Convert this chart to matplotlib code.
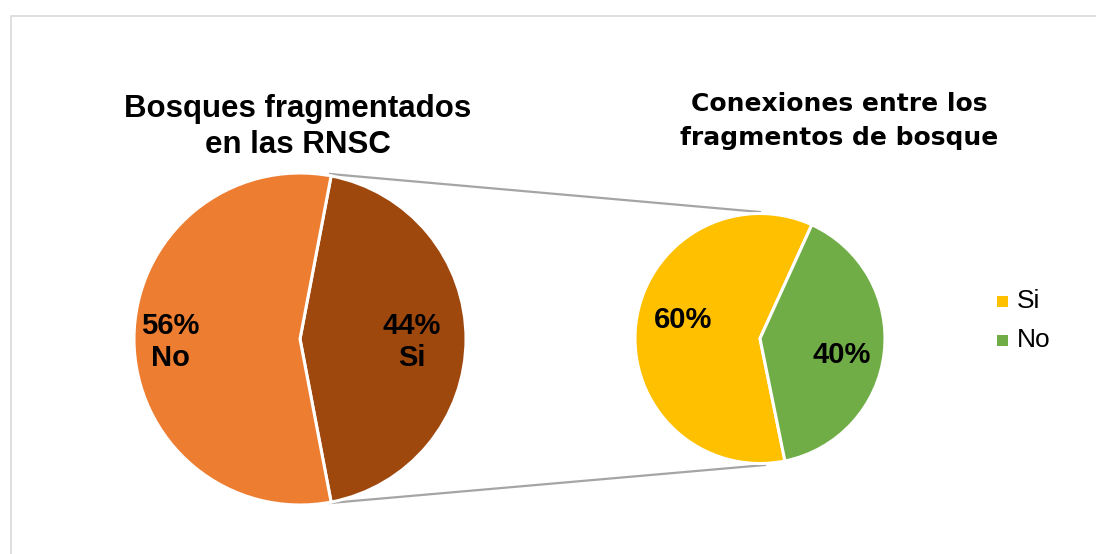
import matplotlib
matplotlib.use("Agg")
import matplotlib.pyplot as plt
from matplotlib.patches import Rectangle

# main pie: fragmented forests
main_labels = ["Si", "No"]
main_values = [44, 56]
main_colors = ["#9E480E", "#ED7D31"]

# secondary pie: connections between fragments
sub_labels = ["Si", "No"]
sub_values = [60, 40]
sub_colors = ["#FFC000", "#70AD47"]

W, H = 1096, 554
plt.rcParams["font.family"] = ["Liberation Sans", "DejaVu Sans"]

fig = plt.figure(figsize=(W / 100, H / 100), dpi=100)
ax = fig.add_axes([0, 0, 1, 1])

# chart frame (right and bottom edges fall outside the image)
ax.add_patch(Rectangle((11, -20), W + 40, H - 16 + 20, fill=False,
                       edgecolor="#D9D9D9", linewidth=1.2))

c1, r1 = (300, H - 339), 166
c2, r2 = (760, H - 338.5), 125

# Si wedge of the main pie is centred on the right (symmetric about 0 deg)
start1 = 360 * main_values[0] / 100 / 2
ax.pie(main_values, colors=main_colors, center=c1, radius=r1,
       startangle=-start1, counterclock=True,
       wedgeprops=dict(edgecolor="white", linewidth=2.2), frame=True)
ax.pie(sub_values, colors=sub_colors, center=c2, radius=r2,
       startangle=65.5, counterclock=True,
       wedgeprops=dict(edgecolor="white", linewidth=2.2), frame=True)
ax.set_xlim(0, W)
ax.set_ylim(0, H)
ax.set_aspect("equal")
ax.axis("off")

# connector lines from the Si wedge to the secondary pie
ax.plot([330, 760], [H - 174, H - 212], color="#A5A5A5", lw=1.6, zorder=0)
ax.plot([330, 765], [H - 503, H - 465], color="#A5A5A5", lw=1.6, zorder=0)

ax.text(298, H - 127, "Bosques fragmentados\nen las RNSC", ha="center",
        va="center", fontsize=22.5, fontweight="bold", linespacing=1.3)
ax.text(839, H - 121, "Conexiones entre los\nfragmentos de bosque",
        ha="center", va="center", fontsize=18, fontweight="bold",
        family=["DejaVu Sans"], linespacing=1.5)

lab_kw = dict(ha="center", va="center", fontsize=21, fontweight="bold",
              linespacing=1.2)
ax.text(170, H - 342, f"{main_values[1]}%\n{main_labels[1]}", **lab_kw)
ax.text(412, H - 342, f"{main_values[0]}%\n{main_labels[0]}", **lab_kw)
ax.text(683, H - 320, f"{sub_values[0]}%", **lab_kw)
ax.text(842, H - 355, f"{sub_values[1]}%", **lab_kw)

# legend
for i, (lab, col) in enumerate(zip(sub_labels, sub_colors)):
    y = H - (301 + 39 * i)
    ax.add_patch(Rectangle((997, y - 5.5), 11, 11, color=col, lw=0))
    ax.text(1017, y, lab, ha="left", va="center", fontsize=19)

fig.savefig("out.png", dpi=100)
